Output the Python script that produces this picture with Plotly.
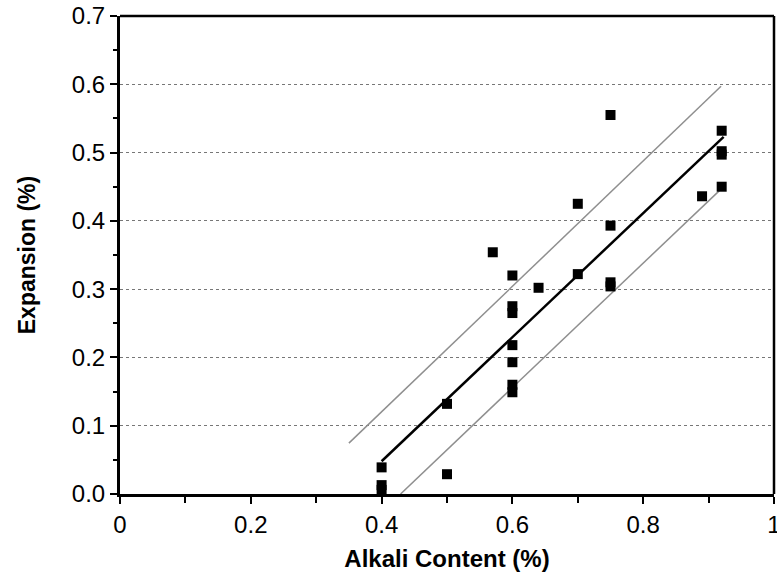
import plotly.graph_objects as go

# Measured data points (alkali content %, expansion %)
alkali = [0.40, 0.40, 0.40, 0.50, 0.50, 0.57, 0.60, 0.60, 0.60, 0.60, 0.60, 0.60, 0.60,
          0.64, 0.70, 0.70, 0.75, 0.75, 0.75, 0.75, 0.89, 0.92, 0.92, 0.92, 0.92]
expansion = [0.039, 0.013, 0.006, 0.132, 0.029, 0.354, 0.320, 0.275, 0.265, 0.218, 0.193, 0.160, 0.149,
             0.302, 0.425, 0.322, 0.555, 0.393, 0.310, 0.304, 0.436, 0.532, 0.502, 0.497, 0.450]

# Regression line and confidence bounds (end points)
fit_x = [0.40, 0.923]
fit_y = [0.048, 0.523]
upper_x = [0.35, 0.919]
upper_y = [0.0745, 0.597]
lower_x = [0.429, 0.925]
lower_y = [0.0, 0.452]

FONT = "Liberation Sans, Arial, sans-serif"

fig = go.Figure()
for xs, ys in [(upper_x, upper_y), (lower_x, lower_y)]:
    fig.add_trace(go.Scatter(x=xs, y=ys, mode="lines",
                             line=dict(color="#8f8f8f", width=1.5), showlegend=False))
fig.add_trace(go.Scatter(x=fit_x, y=fit_y, mode="lines",
                         line=dict(color="black", width=2.5), showlegend=False))
fig.add_trace(go.Scatter(x=alkali, y=expansion, mode="markers",
                         marker=dict(symbol="square", size=10, color="black"),
                         showlegend=False))

xr = [0, 1]
yr = [0, 0.7]

fig.update_layout(
    width=777, height=580,
    margin=dict(l=120, r=3, t=16, b=86, autoexpand=False),
    plot_bgcolor="white", paper_bgcolor="white",
    font=dict(family=FONT, color="black"),
    xaxis=dict(range=xr, tickvals=[0, 0.2, 0.4, 0.6, 0.8, 1], ticktext=["0", "0.2", "0.4", "0.6", "0.8", "1"],
               ticks="outside", ticklen=7, tickwidth=2, tickcolor="black",
               minor=dict(tickvals=[0.1, 0.3, 0.5, 0.7, 0.9], ticks="outside", ticklen=6, tickwidth=2, tickcolor="black"),
               showline=True, linecolor="black", linewidth=3, showgrid=False, zeroline=False,
               tickfont=dict(size=24), ticklabeloverflow="allow", automargin=False,
               title=dict(text="<b>Alkali Content (%)</b>", font=dict(size=24), standoff=14)),
    yaxis=dict(range=yr, tickvals=[0, 0.1, 0.2, 0.3, 0.4, 0.5, 0.6, 0.7],
               ticktext=["0.0", "0.1", "0.2", "0.3", "0.4", "0.5", "0.6", "0.7"],
               ticks="outside", ticklen=7, tickwidth=2, tickcolor="black",
               minor=dict(tickvals=[0.05, 0.15, 0.25, 0.35, 0.45, 0.55, 0.65], ticks="outside", ticklen=4,
                          tickwidth=2, tickcolor="black"),
               showline=True, linecolor="black", linewidth=3,
               showgrid=True, gridcolor="#777777", gridwidth=1, griddash="3px,3px", zeroline=False,
               tickfont=dict(size=24), ticklabeloverflow="allow", automargin=False,
               title=dict(text="<b>Expansion (%)</b>", font=dict(size=23), standoff=30)),
    xaxis2=dict(range=xr, overlaying="x", side="bottom", anchor="y",
                tickvals=[0, 0.1, 0.2, 0.3, 0.4, 0.5, 0.6, 0.7, 0.8, 0.9, 1],
                ticks="inside", ticklen=6, tickwidth=2, tickcolor="black",
                showticklabels=False, showgrid=False, zeroline=False, showline=False),
    yaxis2=dict(range=yr, overlaying="y", side="left", anchor="x",
                tickvals=[0, 0.05, 0.1, 0.15, 0.2, 0.25, 0.3, 0.35, 0.4, 0.45, 0.5, 0.55, 0.6, 0.65, 0.7],
                ticks="inside", ticklen=5, tickwidth=2, tickcolor="black",
                showticklabels=False, showgrid=False, zeroline=False, showline=False),
    shapes=[
        dict(type="line", xref="paper", yref="paper", x0=0, x1=1, y0=1, y1=1,
             line=dict(color="black", width=2.5)),
        dict(type="line", xref="paper", yref="paper", x0=1, x1=1, y0=0, y1=1,
             line=dict(color="black", width=2.5)),
    ],
)

fig.write_html("out.html")
